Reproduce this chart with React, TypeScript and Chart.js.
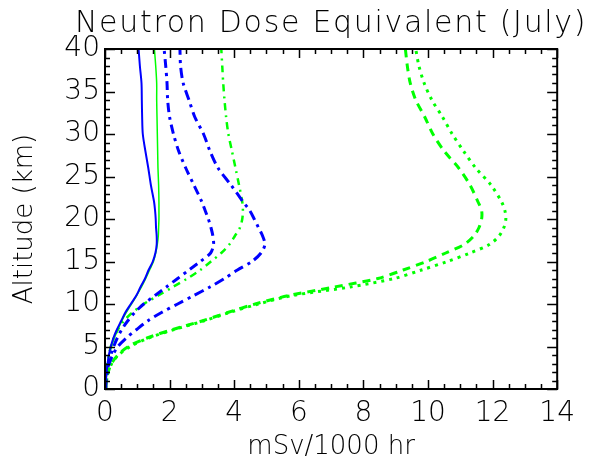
import React, { useEffect, useRef } from "react";
import { Chart, registerables } from "chart.js";

Chart.register(...registerables);

const TITLE = "Neutron Dose Equivalent (July)";
const X_TITLE = "mSv/1000 hr";
const Y_TITLE = "Altitude (km)";

const altitudes = [0, 1, 2, 3, 4, 5, 6, 7, 8, 9, 10, 11, 12, 13, 14, 15, 16, 17, 18, 19, 20, 21, 22, 24, 26, 28, 30, 32, 34, 36, 38, 40];

const blueSolid = [0.02, 0.03, 0.05, 0.08, 0.12, 0.18, 0.26, 0.37, 0.5, 0.63, 0.8, 0.97, 1.1, 1.24, 1.35, 1.48, 1.56, 1.6, 1.6, 1.58, 1.57, 1.55, 1.52, 1.42, 1.34, 1.25, 1.17, 1.15, 1.14, 1.13, 1.08, 1.04];
const greenSolid = [0.02, 0.03, 0.05, 0.08, 0.13, 0.2, 0.29, 0.4, 0.52, 0.66, 0.82, 0.98, 1.13, 1.26, 1.38, 1.5, 1.57, 1.62, 1.65, 1.66, 1.67, 1.67, 1.67, 1.66, 1.64, 1.63, 1.62, 1.61, 1.6, 1.6, 1.57, 1.53];
const blueInner = [0.02, 0.03, 0.06, 0.11, 0.18, 0.27, 0.38, 0.52, 0.7, 0.92, 1.2, 1.55, 1.9, 2.25, 2.6, 2.95, 3.27, 3.36, 3.34, 3.28, 3.2, 3.1, 3.0, 2.75, 2.5, 2.28, 2.12, 2.0, 1.94, 1.92, 1.88, 1.83];
const greenDashDot = [0.01, 0.02, 0.04, 0.07, 0.12, 0.18, 0.27, 0.4, 0.58, 0.85, 1.2, 1.65, 2.1, 2.55, 2.95, 3.28, 3.6, 3.85, 4.02, 4.18, 4.25, 4.27, 4.25, 4.15, 4.04, 3.93, 3.82, 3.75, 3.7, 3.66, 3.63, 3.6];
const blueOuter = [0.02, 0.03, 0.07, 0.13, 0.24, 0.4, 0.66, 0.98, 1.32, 1.75, 2.25, 2.75, 3.25, 3.7, 4.1, 4.55, 4.83, 4.95, 4.88, 4.75, 4.62, 4.48, 4.28, 3.9, 3.5, 3.25, 3.05, 2.78, 2.6, 2.42, 2.34, 2.32];
const greenDashed = [0.02, 0.05, 0.1, 0.2, 0.4, 0.72, 1.3, 2.1, 3.0, 3.8, 4.65, 5.7, 7.1, 8.45, 9.23, 9.95, 10.55, 11.12, 11.42, 11.58, 11.66, 11.66, 11.55, 11.3, 10.95, 10.5, 10.15, 9.9, 9.62, 9.45, 9.36, 9.3];
const greenDotted = [0.02, 0.05, 0.1, 0.21, 0.42, 0.78, 1.35, 2.15, 3.05, 3.85, 4.75, 5.8, 7.6, 8.95, 9.8, 10.6, 11.3, 11.9, 12.2, 12.35, 12.41, 12.38, 12.28, 11.95, 11.48, 11.1, 10.75, 10.45, 10.12, 9.88, 9.72, 9.62];

const X_MIN = 0;
const X_MAX = 14;
const X_MAJOR = 2;
const X_MINOR = 0.5;
const Y_MIN = 0;
const Y_MAX = 40;
const Y_MAJOR = 5;
const Y_MINOR = 1;

const FONT_FAMILY = "'DejaVu Sans', 'Liberation Sans', sans-serif";
const BLUE = "#0000ff";
const GREEN = "#00ff00";

const toPoints = (xs: number[]) => altitudes.map((a, i) => ({ x: xs[i], y: a }));

const framePlugin = {
  id: "frameTicks",
  afterDatasetsDraw(chart: any) {
    const { ctx, chartArea: a, scales } = chart;
    const xs = scales.x;
    const ys = scales.y;
    ctx.save();
    ctx.strokeStyle = "#000";
    ctx.lineWidth = 2;
    ctx.strokeRect(a.left, a.top, a.right - a.left, a.bottom - a.top);
    ctx.lineWidth = 1.5;
    ctx.beginPath();
    const nx = Math.round((X_MAX - X_MIN) / X_MINOR);
    for (let i = 0; i <= nx; i++) {
      const v = X_MIN + i * X_MINOR;
      const major = Math.abs(v / X_MAJOR - Math.round(v / X_MAJOR)) < 1e-6;
      const len = major ? 9 : 5;
      const px = Math.round(xs.getPixelForValue(v)) + 0.5;
      ctx.moveTo(px, a.bottom);
      ctx.lineTo(px, a.bottom - len);
      ctx.moveTo(px, a.top);
      ctx.lineTo(px, a.top + len);
    }
    const ny = Math.round((Y_MAX - Y_MIN) / Y_MINOR);
    for (let i = 0; i <= ny; i++) {
      const v = Y_MIN + i * Y_MINOR;
      const major = Math.abs(v / Y_MAJOR - Math.round(v / Y_MAJOR)) < 1e-6;
      const len = major ? 10 : 5;
      const py = Math.round(ys.getPixelForValue(v)) + 0.5;
      ctx.moveTo(a.left, py);
      ctx.lineTo(a.left + len, py);
      ctx.moveTo(a.right, py);
      ctx.lineTo(a.right - len, py);
    }
    ctx.stroke();

    ctx.fillStyle = "#000";
    ctx.font = `200 30px ${FONT_FAMILY}`;
    try {
      (ctx as any).letterSpacing = "1.7px";
    } catch (e) {}
    ctx.textAlign = "center";
    ctx.textBaseline = "alphabetic";
    ctx.fillText(TITLE, (a.left + a.right) / 2, 24);
    ctx.restore();
  },
};

export default function App() {
  const ref = useRef<HTMLCanvasElement | null>(null);

  useEffect(() => {
    if (!ref.current) return;
    const tickFont = { family: FONT_FAMILY, size: 28, weight: "200" as any };
    const titleFont = { family: FONT_FAMILY, size: 26, weight: "200" as any };
    const chart = new Chart(ref.current, {
      type: "scatter",
      data: {
        datasets: [
          { data: toPoints(blueSolid), borderColor: BLUE, borderWidth: 2, borderDash: [] },
          { data: toPoints(blueInner), borderColor: BLUE, borderWidth: 3, borderDash: [9, 5, 3, 5] },
          { data: toPoints(blueOuter), borderColor: BLUE, borderWidth: 3, borderDash: [10, 5, 3, 5] },
          { data: toPoints(greenSolid), borderColor: GREEN, borderWidth: 1.5, borderDash: [] },
          { data: toPoints(greenDashDot), borderColor: GREEN, borderWidth: 2.5, borderDash: [7, 5, 2, 5] },
          { data: toPoints(greenDashed), borderColor: GREEN, borderWidth: 3, borderDash: [8, 6] },
          { data: toPoints(greenDotted), borderColor: GREEN, borderWidth: 3, borderDash: [3, 5] },
        ].map((d) => ({
          ...d,
          showLine: true,
          pointRadius: 0,
          pointHoverRadius: 0,
          tension: 0.3,
          fill: false,
          backgroundColor: d.borderColor,
        })),
      },
      options: {
        responsive: false,
        animation: false,
        layout: { padding: { top: 41, right: 20, left: 0, bottom: 0 } },
        plugins: {
          legend: { display: false },
          title: { display: false },
          tooltip: { enabled: false },
        },
        scales: {
          x: {
            type: "linear",
            min: X_MIN,
            max: X_MAX,
            ticks: { stepSize: X_MAJOR, font: tickFont, color: "#000", padding: 8, maxRotation: 0, autoSkip: false },
            grid: { display: false, drawTicks: false },
            border: { display: false },
            title: { display: true, text: X_TITLE, font: titleFont, color: "#000", padding: { top: 0, bottom: 1 } },
            afterFit: (s: any) => {
              s.height = 75;
            },
          },
          y: {
            type: "linear",
            min: Y_MIN,
            max: Y_MAX,
            ticks: { stepSize: Y_MAJOR, font: tickFont, color: "#000", padding: 5, autoSkip: false },
            grid: { display: false, drawTicks: false },
            border: { display: false },
            title: { display: true, text: Y_TITLE, font: titleFont, color: "#000", padding: { top: 2, bottom: 0 } },
            afterFit: (s: any) => {
              s.width = 97;
            },
          },
        },
      },
      plugins: [framePlugin],
    });
    return () => chart.destroy();
  }, []);

  return <canvas ref={ref} width={575} height={456} style={{ display: "block" }} />;
}
